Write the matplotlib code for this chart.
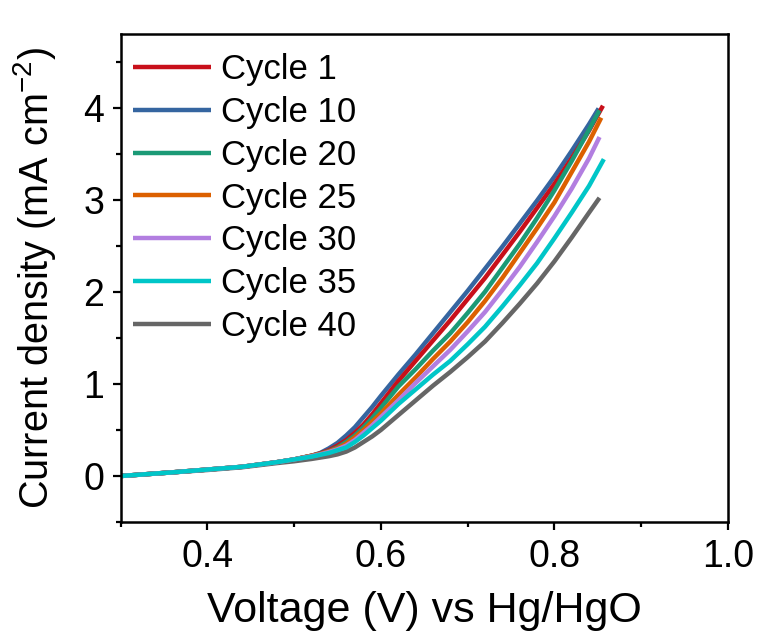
import matplotlib
matplotlib.use("Agg")
import matplotlib.pyplot as plt
from matplotlib.ticker import MultipleLocator

plt.rcParams['font.family'] = ['Liberation Sans', 'DejaVu Sans']
plt.rcParams['mathtext.fontset'] = 'custom'
plt.rcParams['mathtext.rm'] = 'Liberation Sans'
plt.rcParams['mathtext.it'] = 'Liberation Sans'

labels = ["Cycle 1", "Cycle 10", "Cycle 20", "Cycle 25", "Cycle 30", "Cycle 35", "Cycle 40"]
colors = ["#c8101a", "#3565a0", "#1b9a76", "#dc6000", "#b27ee0", "#00c6c8", "#666666"]

v_grid = [0.30, 0.33, 0.36, 0.40, 0.44, 0.48, 0.50,
          0.52, 0.53, 0.54, 0.55, 0.56, 0.57, 0.58, 0.59, 0.60,
          0.62, 0.64, 0.66, 0.68, 0.70, 0.72, 0.74, 0.76, 0.78, 0.80, 0.82, 0.84]
low_j = [0.00, 0.02, 0.04, 0.07, 0.10, 0.15, 0.18]

cycle1_v = v_grid + [0.856]
cycle1_j = low_j + [0.22, 0.245, 0.28, 0.33, 0.39, 0.47, 0.56, 0.67, 0.79,
                    1.03, 1.25, 1.47, 1.69, 1.92, 2.15, 2.40, 2.65, 2.91, 3.17, 3.45, 3.75, 4.02]
cycle10_v = v_grid + [0.851]
cycle10_j = low_j + [0.22, 0.25, 0.30, 0.36, 0.44, 0.53, 0.64, 0.75, 0.87,
                     1.10, 1.32, 1.55, 1.78, 2.01, 2.25, 2.49, 2.74, 2.99, 3.25, 3.53, 3.82, 3.99]
cycle20_v = v_grid + [0.852]
cycle20_j = low_j + [0.22, 0.24, 0.27, 0.31, 0.37, 0.44, 0.53, 0.63, 0.74,
                     0.97, 1.16, 1.36, 1.55, 1.77, 2.00, 2.26, 2.52, 2.80, 3.10, 3.42, 3.76, 3.97]
cycle25_v = v_grid + [0.854]
cycle25_j = low_j + [0.22, 0.24, 0.265, 0.30, 0.35, 0.42, 0.50, 0.59, 0.68,
                     0.88, 1.07, 1.27, 1.46, 1.67, 1.90, 2.15, 2.42, 2.69, 2.97, 3.30, 3.63, 3.89]
cycle30_v = v_grid + [0.852]
cycle30_j = low_j + [0.215, 0.235, 0.26, 0.29, 0.33, 0.39, 0.47, 0.55, 0.64,
                     0.82, 1.01, 1.19, 1.37, 1.57, 1.78, 2.02, 2.27, 2.54, 2.82, 3.12, 3.45, 3.68]
cycle35_v = v_grid + [0.857]
cycle35_j = low_j + [0.21, 0.23, 0.25, 0.28, 0.31, 0.37, 0.44, 0.52, 0.60,
                     0.78, 0.94, 1.10, 1.25, 1.43, 1.62, 1.84, 2.07, 2.31, 2.58, 2.86, 3.15, 3.44]
cycle40_v = v_grid + [0.852]
cycle40_j = [0.00, 0.02, 0.04, 0.065, 0.095, 0.14, 0.16,
             0.185, 0.20, 0.215, 0.235, 0.265, 0.31, 0.37, 0.43, 0.50,
             0.66, 0.82, 0.98, 1.13, 1.29, 1.46, 1.66, 1.87, 2.09, 2.33, 2.59, 2.86, 3.02]

series = [(cycle1_v, cycle1_j), (cycle10_v, cycle10_j), (cycle20_v, cycle20_j),
          (cycle25_v, cycle25_j), (cycle30_v, cycle30_j), (cycle35_v, cycle35_j),
          (cycle40_v, cycle40_j)]

fig = plt.figure(figsize=(7.59, 6.39), dpi=100)
ax = fig.add_axes([0.159, 0.183, 0.800, 0.764])

order = [6, 1, 0, 2, 3, 4, 5]
handles = {}
for i in order:
    v, j = series[i]
    ln, = ax.plot(v, j, color=colors[i], lw=3.2, label=labels[i],
                  solid_capstyle='butt', solid_joinstyle='round')
    handles[i] = ln

ax.set_xlim(0.3, 1.0)
ax.set_ylim(-0.5, 4.8)
ax.xaxis.set_minor_locator(MultipleLocator(0.1))
ax.yaxis.set_major_locator(MultipleLocator(1))
ax.yaxis.set_minor_locator(MultipleLocator(0.5))
ax.set_xticks([0.4, 0.6, 0.8, 1.0])
ax.set_xticklabels(["0.4", "0.6", "0.8", "1.0"])

for s in ax.spines.values():
    s.set_linewidth(1.8)
ax.tick_params(which='major', direction='out', length=6, width=1.6, labelsize=27, pad=6)
ax.tick_params(which='minor', direction='out', length=3.5, width=1.6)
ax.tick_params(top=False, right=False)

ax.set_xlabel("Voltage (V) vs Hg/HgO", fontsize=31, labelpad=12)
ax.set_ylabel(r"Current density (mA cm$^{\mathregular{-2}}$)", fontsize=28.5, labelpad=18)

ax.legend([handles[i] for i in range(7)], labels, loc='upper left', frameon=False,
          fontsize=25, handlelength=2.25, handletextpad=0.3, labelspacing=0.28,
          borderpad=0.3, borderaxespad=0.05, bbox_to_anchor=(0.0, 0.985))

fig.savefig("out.png", dpi=100)
